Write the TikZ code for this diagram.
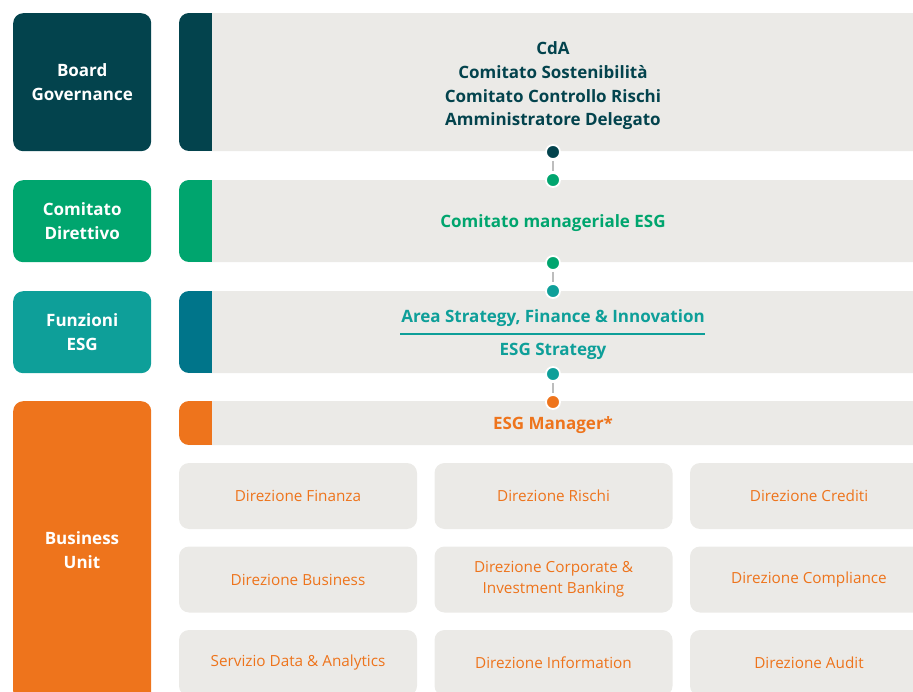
\documentclass[tikz,border=0pt]{standalone}
\usepackage{fontspec}
\setmainfont{Open Sans}
\definecolor{cDark}{HTML}{03434D}
\definecolor{cGreen}{HTML}{00A56E}
\definecolor{cTeal}{HTML}{0E9F99}
\definecolor{cBlue}{HTML}{00758A}
\definecolor{cOrange}{HTML}{EE741C}
\definecolor{cGray}{HTML}{EBEAE7}
\definecolor{cLine}{HTML}{BDBDBD}
\begin{document}
\begin{tikzpicture}[x=1pt,y=-1pt,
  lbox/.style={fill=#1, rounded corners=10pt, anchor=north west, inner sep=0pt,
    minimum width=138pt, text=white, align=center,
    font=\fontsize{17}{24}\selectfont\bfseries},
  bar/.style={fill=cGray, rounded corners=10pt, anchor=north west, inner sep=0pt, minimum width=760pt},
  ttl/.style={text=#1, align=center, inner sep=0pt,
    font=\fontsize{17}{23.7}\selectfont\bfseries},
  gbox/.style={fill=cGray, rounded corners=10pt, inner sep=0pt,
    minimum width=238pt, minimum height=66pt, text=cOrange, align=center,
    font=\fontsize{15.3}{21}\selectfont},
  dot/.style={circle, fill=#1, draw=white, line width=1.8pt, minimum size=14pt, inner sep=0pt},
  link/.style={draw=cLine, line width=1.6pt, shorten <=1pt, shorten >=1pt}]
\useasboundingbox (0,0) rectangle (913,692);
\clip (0,0) rectangle (913,692);
% left boxes
\node[lbox=cDark, minimum height=138pt] (lb1) at (13,13) {Board\\Governance};
\node[lbox=cGreen, minimum height=82pt] (lb2) at (13,180) {Comitato\\Direttivo};
\node[lbox=cTeal, minimum height=82pt] (lb3) at (13,291) {Funzioni\\ESG};
\node[lbox=cOrange, minimum height=300pt] (lb4) at (13,401) {};
\node[text=white, align=center, inner sep=0pt,
  font=\fontsize{17}{24}\selectfont\bfseries] (lb4t) at (82,550) {Business\\Unit};
% bars with coloured strips
\node[bar, minimum height=138pt] (bar1) at (179,13) {};
\begin{scope}
  \clip[rounded corners=10pt] (179,13) rectangle (240,151);
  \fill[cDark] (179,13) rectangle (212,151);
\end{scope}
\node[bar, minimum height=82pt] (bar2) at (179,180) {};
\begin{scope}
  \clip[rounded corners=10pt] (179,180) rectangle (240,262);
  \fill[cGreen] (179,180) rectangle (212,262);
\end{scope}
\node[bar, minimum height=82pt] (bar3) at (179,291) {};
\begin{scope}
  \clip[rounded corners=10pt] (179,291) rectangle (240,373);
  \fill[cBlue] (179,291) rectangle (212,373);
\end{scope}
\node[bar, minimum height=44pt] (bar4) at (179,401) {};
\begin{scope}
  \clip[rounded corners=10pt] (179,401) rectangle (240,445);
  \fill[cOrange] (179,401) rectangle (212,445);
\end{scope}
% titles
\node[ttl=cDark] (t1) at (553,86) {CdA\\Comitato Sostenibilità\\Comitato Controllo Rischi\\Amministratore Delegato};
\node[ttl=cGreen] (t2) at (553,223.5) {Comitato manageriale ESG};
\node[ttl=cTeal] (t3a) at (553,318) {Area Strategy, Finance \& Innovation};
\node[ttl=cTeal] (t3b) at (553,351.5) {ESG Strategy};
\coordinate (ul1) at (400,334);
\coordinate (ul2) at (705,334);
\draw[cTeal, line width=1.2pt] (ul1) -- (ul2);
\node[ttl=cOrange] (t4) at (553,425.5) {ESG Manager*};
% dots and links
\node[dot=cDark] (d1) at (553,152) {};
\node[dot=cGreen] (d2) at (553,180) {};
\node[dot=cGreen] (d3) at (553,263) {};
\node[dot=cTeal] (d4) at (553,291) {};
\node[dot=cTeal] (d5) at (553,374) {};
\node[dot=cOrange] (d6) at (553,402) {};
\draw[link] (d1) -- (d2);
\draw[link] (d3) -- (d4);
\draw[link] (d5) -- (d6);
% grid
\node[gbox] (g11) at (298,496) {Direzione Finanza};
\node[gbox] (g12) at (553.5,496) {Direzione Rischi};
\node[gbox] (g13) at (809,496) {Direzione Crediti};
\node[gbox] (g21) at (298,579.5) {Direzione Business};
\node[gbox] (g22) at (553.5,579.5) {Direzione Corporate \&\\Investment Banking};
\node[gbox] (g23) at (809,579.5) {Direzione Compliance};
\node[gbox] (g31) at (298,663) {Servizio Data \& Analytics};
\node[gbox] (g32) at (553.5,663) {Direzione Information};
\node[gbox] (g33) at (809,663) {Direzione Audit};
\end{tikzpicture}
\end{document}
